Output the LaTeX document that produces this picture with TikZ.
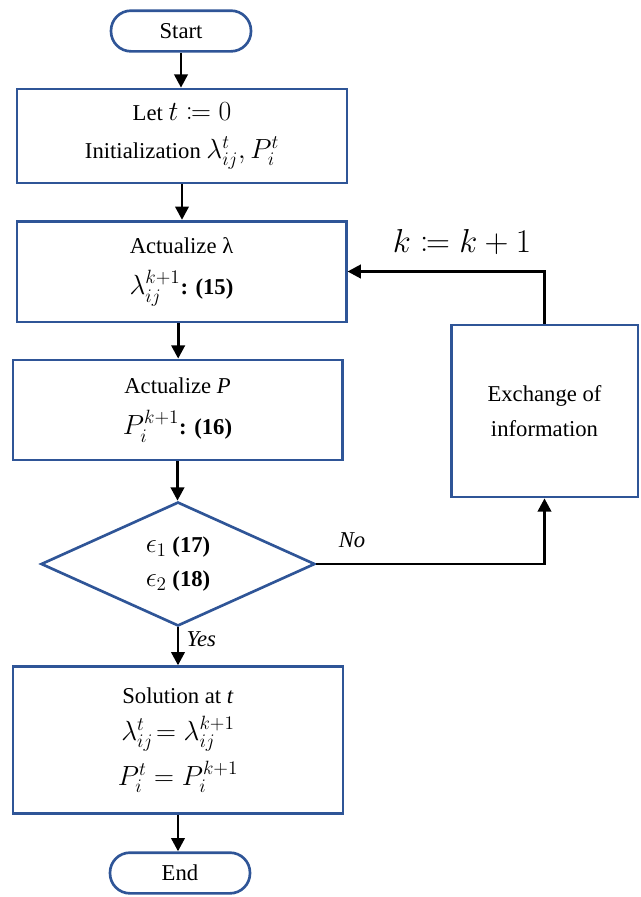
\documentclass[tikz,border=0pt]{standalone}
\usepackage{mathtools}
\usepackage{fontspec}
\setmainfont{Liberation Serif}
\usetikzlibrary{arrows.meta,shapes.geometric}
\definecolor{boxblue}{RGB}{47,85,151}
\newcommand{\mth}[1]{{\fontsize{22}{25}\selectfont$#1$}}
\begin{document}
\begin{tikzpicture}[x=0.75pt,y=-0.75pt,
  every node/.style={font=\fontsize{17}{20}\selectfont},
  procbox/.style={draw=boxblue,line width=2pt,rectangle,align=center,inner sep=0pt},
  termbox/.style={draw=boxblue,line width=2pt,rectangle,rounded corners=15pt,inner sep=0pt,
     minimum width=105pt,minimum height=30.5pt},
  decbox/.style={draw=boxblue,line width=2pt,diamond,align=center,inner sep=0pt},
  flow/.style={draw=black,line width=2.2pt,-{Triangle[length=10pt,width=10pt]}},
  lbl/.style={font=\fontsize{17}{20}\selectfont\itshape}]
\useasboundingbox (0,0) rectangle (641,897);

\node[termbox] (start) at (181,31) {Start};
\node[procbox,minimum width=247.5pt,minimum height=70.5pt] (init) at (182,136)
  {Let \mth{t \coloneqq 0}\\[8pt] Initialization \mth{\lambda_{ij}^{t}, P_{i}^{t}}};
\node[procbox,minimum width=247pt,minimum height=75.5pt] (actl) at (181.5,271.5)
  {Actualize λ\\[11pt] \mth{\lambda_{ij}^{k+1}}\textbf{: (15)}};
\node[procbox,minimum width=247pt,minimum height=75pt] (actp) at (177.5,410)
  {Actualize \textit{P}\\[11pt] \mth{P_{i}^{k+1}}\textbf{: (16)}};
\node[decbox,minimum width=205.5pt,minimum height=93pt] (dec) at (178,564)
  {\mth{\epsilon_1}\ \textbf{(17)}\\[6pt] \mth{\epsilon_2}\ \textbf{(18)}};
\node[procbox,minimum width=140pt,minimum height=129pt] (exch) at (544.5,411)
  {Exchange of\\[6pt] information};
\node[procbox,minimum width=247.5pt,minimum height=110pt] (sol) at (178,740)
  {Solution at \textit{t}\\[8pt]
   \mth{\lambda_{ij}^{t}\!=\lambda_{ij}^{k+1}}\\[6pt]
   \mth{P_{i}^{t} = P_{i}^{k+1}}};
\node[termbox] (end) at (180,873) {End};

\draw[flow] (start.south) -- (start.south |- init.north);
\draw[flow] (init.south) -- (init.south |- actl.north);
\draw[flow] ([xshift=-2.5pt]actl.south) -- ([xshift=-2.5pt]actl.south |- actp.north);
\draw[flow] (actp.south) -- (actp.south |- dec.north);
\draw[flow] (dec.south) -- (dec.south |- sol.north)
  node[lbl,pos=0.3,right=2pt] (yes) {Yes};
\draw[flow] (sol.south) -- (sol.south |- end.north);
\draw[flow] (dec.east) -| (exch.south);
\node[lbl] (no) at (352,540) {No};
\draw[flow] (exch.north) |- (actl.east);
\node (kk) at (462,242) {\fontsize{24}{28}\selectfont$k \coloneqq k+1$};
\end{tikzpicture}
\end{document}
